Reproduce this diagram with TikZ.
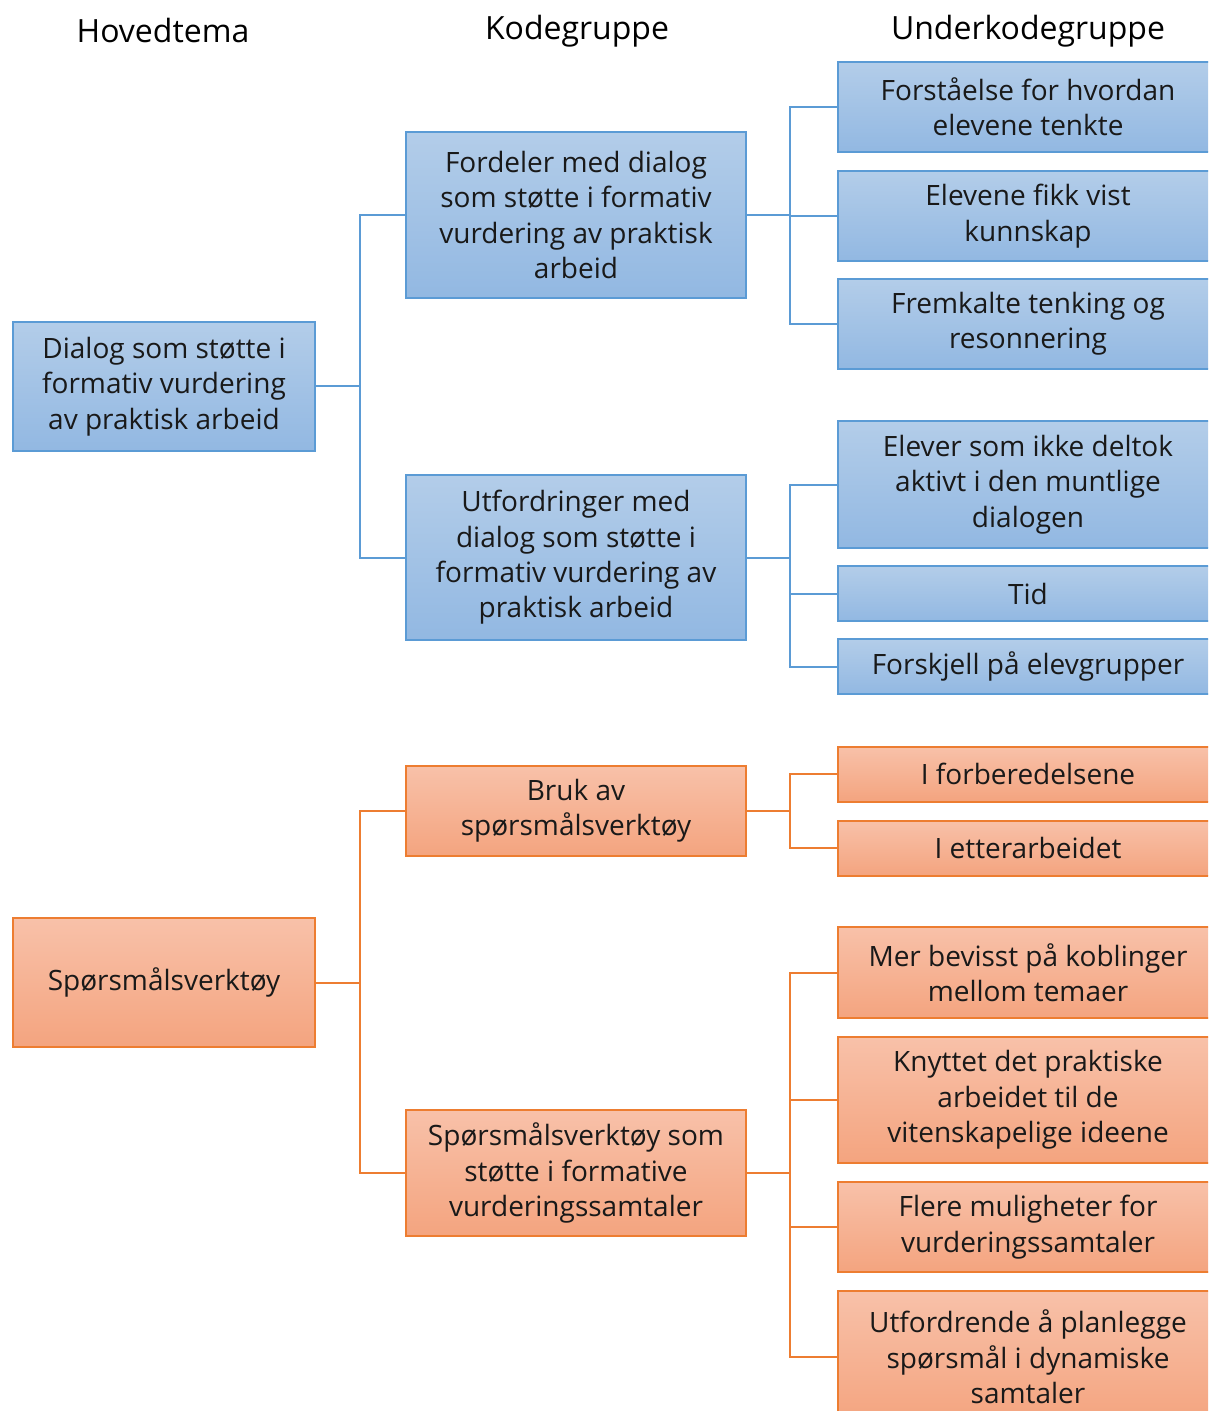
\documentclass[tikz,border=0pt]{standalone}
\usepackage{fontspec}
\setmainfont{Open Sans}
\definecolor{bluedge}{HTML}{5B9BD5}
\definecolor{bluetop}{HTML}{B3CDE9}
\definecolor{bluebot}{HTML}{92B8E2}
\definecolor{orgedge}{HTML}{ED7D31}
\definecolor{orgtop}{HTML}{F8C1A9}
\definecolor{orgbot}{HTML}{F4A47F}
\tikzset{
  box/.style={draw, line width=1pt, inner sep=0pt, align=center,
    font=\fontsize{14}{17.7}\selectfont, text=black!90},
  bluebox/.style={box, draw=bluedge, top color=bluetop, bottom color=bluebot},
  orgbox/.style={box, draw=orgedge, top color=orgtop, bottom color=orgbot},
  lvlA/.style={minimum width=151pt},
  lvlB/.style={minimum width=170pt},
  lvlC/.style={minimum width=190pt},
  head/.style={font=\fontsize{16}{19}\selectfont},
  bluelink/.style={draw=bluedge, line width=1pt},
  orglink/.style={draw=orgedge, line width=1pt},
}
\begin{document}
\begin{tikzpicture}[x=0.5pt, y=-0.5pt]
\useasboundingbox (0,0) rectangle (1208,1411);
\clip (0,0) rectangle (1208,1411);

% column headings
\node[head] (h1) at (163,31) {Hovedtema};
\node[head] (h2) at (577,31) {Kodegruppe};
\node[head] (h3) at (1028,31) {Underkodegruppe};

% main themes
\node[bluebox, lvlA, minimum height=64.5pt] (a1) at (164,386.5) {Dialog som støtte i\\formativ vurdering\\av praktisk arbeid};
\node[orgbox, lvlA, minimum height=64.5pt] (a2) at (164,982.5) {Spørsmålsverktøy};

% code groups
\node[bluebox, lvlB, minimum height=83pt] (b1) at (576,215) {Fordeler med dialog\\som støtte i formativ\\vurdering av praktisk\\arbeid};
\node[bluebox, lvlB, minimum height=82.5pt] (b2) at (576,557.5) {Utfordringer med\\dialog som støtte i\\formativ vurdering av\\praktisk arbeid};
\node[orgbox, lvlB, minimum height=45pt] (b3) at (576,811) {Bruk av\\spørsmålsverktøy};
\node[orgbox, lvlB, minimum height=63pt] (b4) at (576,1173) {Spørsmålsverktøy som\\støtte i formative\\vurderingssamtaler};

% sub-code groups
\node[bluebox, lvlC, minimum height=45pt] (c1) at (1028,107) {Forståelse for hvordan\\elevene tenkte};
\node[bluebox, lvlC, minimum height=45pt] (c2) at (1028,216) {Elevene fikk vist\\kunnskap};
\node[bluebox, lvlC, minimum height=45pt] (c3) at (1028,324) {Fremkalte tenking og\\resonnering};
\node[bluebox, lvlC, minimum height=63pt] (c4) at (1028,484.5) {Elever som ikke deltok\\aktivt i den muntlige\\dialogen};
\node[bluebox, lvlC, minimum height=27.5pt] (c5) at (1028,593.5) {Tid};
\node[bluebox, lvlC, minimum height=27.5pt] (c6) at (1028,666.5) {Forskjell på elevgrupper};
\node[orgbox, lvlC, minimum height=27.5pt] (c7) at (1028,774) {I forberedelsene};
\node[orgbox, lvlC, minimum height=27.5pt] (c8) at (1028,848) {I etterarbeidet};
\node[orgbox, lvlC, minimum height=45.5pt] (c9) at (1028,972.5) {Mer bevisst på koblinger\\mellom temaer};
\node[orgbox, lvlC, minimum height=63pt] (c10) at (1028,1100) {Knyttet det praktiske\\arbeidet til de\\vitenskapelige ideene};
\node[orgbox, lvlC, minimum height=45pt] (c11) at (1028,1227) {Flere muligheter for\\vurderingssamtaler};
\node[orgbox, lvlC, minimum height=66pt] (c12) at (1028,1357) {Utfordrende å planlegge\\spørsmål i dynamiske\\samtaler};

% elbow connectors: parent east -> bus -> child west
\foreach \p/\c in {a1/b1, a1/b2}
  \path[bluelink] (\p.east) -| ([xshift=-22.5pt]\c.west) -- (\c.west);
\foreach \p/\c in {b1/c1, b1/c2, b1/c3, b2/c4, b2/c5, b2/c6}
  \path[bluelink] (\p.east) -| ([xshift=-23.5pt]\c.west) -- (\c.west);
\foreach \p/\c in {a2/b3, a2/b4}
  \path[orglink] (\p.east) -| ([xshift=-22.5pt]\c.west) -- (\c.west);
\foreach \p/\c in {b3/c7, b3/c8, b4/c9, b4/c10, b4/c11, b4/c12}
  \path[orglink] (\p.east) -| ([xshift=-23.5pt]\c.west) -- (\c.west);
\end{tikzpicture}
\end{document}
